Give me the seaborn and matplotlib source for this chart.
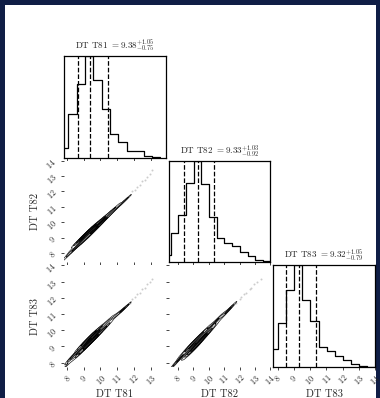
import numpy as np
import pandas as pd
import matplotlib
matplotlib.use("Agg")
import matplotlib.pyplot as plt
import seaborn as sns

# --- DATA ---
param_names = ["DT T81", "DT T82", "DT T83"]
medians = [9.38, 9.33, 9.32]
err_plus = [1.05, 1.03, 1.05]
err_minus = [0.75, 0.92, 0.79]

# 1D histograms: relative heights of 0.5 wide bins, left edge of first bin
hist_left = [7.58, 7.02, 7.52]
hist_81 = [0.09, 0.43, 0.72, 1.0, 0.76, 0.48, 0.23, 0.155, 0.066, 0.066, 0.02, 0.007]
hist_82 = [0.075, 0.29, 0.47, 0.78, 1.0, 0.77, 0.45, 0.24, 0.19, 0.16, 0.10, 0.065, 0.026, 0.01]
hist_83 = [0.18, 0.43, 0.76, 1.0, 0.66, 0.45, 0.20, 0.16, 0.11, 0.066, 0.033, 0.007, 0.0]

# samples along the ridge (main body of the chain)
dtt81 = [7.90, 8.10, 8.30, 8.45, 8.55, 8.65, 8.75, 8.85, 8.90, 9.00, 9.05, 9.15, 9.20,
         9.30, 9.35, 9.40, 9.45, 9.55, 9.60, 9.70, 9.80, 9.90, 10.00, 10.10, 10.25,
         10.40, 10.55, 10.75, 11.00, 11.30, 11.60]
dtt82 = [7.65, 7.95, 8.25, 8.25, 8.65, 8.50, 8.80, 8.65, 9.05, 8.90, 9.15, 8.90, 9.32,
         9.22, 9.53, 9.22, 9.50, 9.43, 9.75, 9.50, 9.88, 9.80, 10.12, 9.95, 10.30,
         10.30, 10.63, 10.67, 11.05, 11.24, 11.55]
dtt83 = [7.73, 8.08, 8.38, 8.49, 8.46, 8.43, 8.94, 8.91, 8.82, 8.79, 9.26, 9.19, 9.10,
         9.10, 9.60, 9.47, 9.33, 9.34, 9.83, 9.75, 9.70, 9.71, 10.19, 10.16, 10.16,
         10.25, 10.69, 10.79, 10.97, 11.22, 11.50]

# sparse tail samples
tail_81 = [11.75, 11.90, 12.05, 12.20, 12.35, 12.50, 12.65, 12.80, 12.95, 13.10]
tail_82 = [11.80, 12.00, 12.10, 12.30, 12.45, 12.65, 12.75, 12.95, 13.15, 13.40]
tail_83 = [11.70, 11.95, 12.05, 12.25, 12.30, 12.55, 12.60, 12.85, 12.95, 13.15]

axis_lo = [7.82, 7.40, 7.73]
axis_hi = [13.90, 14.00, 14.00]

samples = [dtt81, dtt82, dtt83]
tails = [tail_81, tail_82, tail_83]
hists = [hist_81, hist_82, hist_83]

# --- STYLE ---
sns.set_style("ticks")
plt.rcParams['font.family'] = 'serif'
plt.rcParams['font.serif'] = ['cmr10']
plt.rcParams['mathtext.fontset'] = 'cm'
plt.rcParams['axes.formatter.use_mathtext'] = True
plt.rcParams['axes.linewidth'] = 0.9

fig, axes = plt.subplots(3, 3, figsize=(3.8, 3.98), dpi=100)
fig.patch.set_facecolor('#101e46')
fig.add_artist(plt.Rectangle((5 / 380, 0), 1 - 9 / 380, 1 - 5 / 398, transform=fig.transFigure,
                             facecolor='white', edgecolor='none', zorder=-10))
fig.subplots_adjust(left=64 / 380, right=375 / 380, top=1 - 56 / 398, bottom=1 - 367 / 398,
                    wspace=0.03, hspace=0.03)

levels_fill = [0.135, 0.325, 0.607, 0.882, 1.0]
levels_line = [0.135, 0.325, 0.607, 0.882]
ticks = [8, 9, 10, 11, 12, 13, 14]

for i in range(3):
    for j in range(3):
        ax = axes[i, j]
        if j > i:
            ax.axis('off')
            continue

        if i == j:
            counts = hists[i]
            edges = [hist_left[i] + 0.5 * k for k in range(len(counts) + 1)]
            centers = [e + 0.25 for e in edges[:-1]]
            sns.histplot(x=centers, weights=counts, bins=edges, element='step',
                         fill=False, color='k', linewidth=0.9, ax=ax)
            for v in [medians[i] - err_minus[i], medians[i], medians[i] + err_plus[i]]:
                ax.axvline(v, ls='--', color='k', lw=0.9)
            ax.set_ylim(0, max(counts))
            ax.set_yticks([])
            ax.set_ylabel('')
            ax.set_title(f"{param_names[i]} $= {medians[i]:.2f}^{{+{err_plus[i]:.2f}}}_{{-{err_minus[i]:.2f}}}$",
                         fontsize=6.5, pad=5)
            for s in ax.spines.values():
                s.set_visible(True)
                s.set_color('k')
        else:
            x, y = samples[j], samples[i]
            sns.scatterplot(x=tails[j], y=tails[i], color='0.8', s=2, linewidth=0, ax=ax)
            sns.kdeplot(x=x, y=y, fill=True, levels=levels_fill, cmap='Greys', bw_adjust=0.6, ax=ax)
            sns.kdeplot(x=x, y=y, levels=levels_line, colors='k', linewidths=0.4, bw_adjust=0.6, ax=ax)
            for s in ax.spines.values():
                s.set_visible(False)
            ax.set_ylim(axis_lo[i], axis_hi[i])
            ax.set_yticks([t for t in ticks if axis_lo[i] <= t <= axis_hi[i]])

        ax.set_xlim(axis_lo[j], axis_hi[j])
        ax.set_xticks([t for t in ticks if axis_lo[j] <= t <= axis_hi[j]])
        ax.tick_params(length=2.5, width=0.6, labelsize=5.8, pad=1.5)
        ax.set_xlabel('')
        ax.set_ylabel('')

        if i == 2:
            ax.set_xlabel(param_names[j], fontsize=7.5, labelpad=2)
            plt.setp(ax.get_xticklabels(), rotation=45)
        else:
            ax.set_xticklabels([])
        if j == 0 and i > 0:
            ax.set_ylabel(param_names[i], fontsize=7.5, labelpad=3)
            plt.setp(ax.get_yticklabels(), rotation=45)
        elif i != j:
            ax.set_yticklabels([])

fig.savefig('out.png', dpi=100, facecolor=fig.get_facecolor())
